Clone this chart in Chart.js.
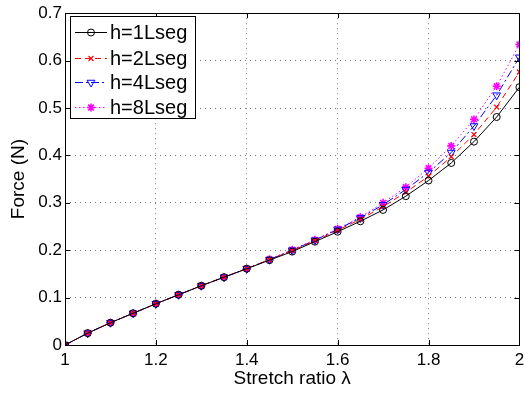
<!DOCTYPE html>
<html>
<head>
<meta charset="utf-8">
<script src="https://cdn.jsdelivr.net/npm/chart.js@4/dist/chart.umd.min.js"></script>
<style>
  html, body { margin: 0; padding: 0; background: #fff; }
  #wrap { width: 525px; height: 397px; }
</style>
</head>
<body>
<div id="wrap"><canvas id="c" width="525" height="397"></canvas></div>
<script>
// Stretch ratio samples
const stretch = [1.00, 1.05, 1.10, 1.15, 1.20, 1.25, 1.30, 1.35, 1.40, 1.45, 1.50,
                 1.55, 1.60, 1.65, 1.70, 1.75, 1.80, 1.85, 1.90, 1.95, 2.00];

// Force (N) for each segment count
const force1 = [0, 0.025, 0.047, 0.067, 0.087, 0.106, 0.125, 0.143, 0.161, 0.179, 0.197,
                0.218, 0.239, 0.261, 0.285, 0.314, 0.347, 0.384, 0.429, 0.481, 0.544];
const force2 = [0, 0.025, 0.047, 0.067, 0.087, 0.106, 0.125, 0.143, 0.161, 0.180, 0.199,
                0.220, 0.242, 0.265, 0.292, 0.322, 0.356, 0.397, 0.444, 0.502, 0.576];
const force4 = [0, 0.025, 0.047, 0.067, 0.087, 0.106, 0.125, 0.143, 0.161, 0.180, 0.200,
                0.221, 0.244, 0.268, 0.296, 0.328, 0.364, 0.406, 0.462, 0.527, 0.607];
const force8 = [0, 0.025, 0.047, 0.067, 0.087, 0.106, 0.125, 0.143, 0.161, 0.181, 0.201,
                0.222, 0.245, 0.270, 0.300, 0.333, 0.373, 0.420, 0.476, 0.546, 0.634];

const seriesLabels = ['h=1Lseg', 'h=2Lseg', 'h=4Lseg', 'h=8Lseg'];
const xTicks = [1, 1.2, 1.4, 1.6, 1.8, 2];
const yTicks = [0, 0.1, 0.2, 0.3, 0.4, 0.5, 0.6, 0.7];

const FONT = '"Liberation Sans", Arial, Helvetica, sans-serif';

const pts = ys => stretch.map((x, i) => ({ x: x, y: ys[i] }));

const styles = [
  { color: '#000000', dash: [], point: 'circle', radius: 3.5, rot: 0, fill: 'rgba(0,0,0,0)', bw: 1 },
  { color: '#ff0000', dash: [6, 4], point: 'crossRot', radius: 3.5, rot: 0, fill: '#ff0000', bw: 1.2 },
  { color: '#0000ff', dash: [8, 3, 2, 3], point: 'triangle', radius: 4.5, rot: 180, fill: 'rgba(0,0,0,0)', bw: 1 },
  { color: '#ff00ff', dash: [1.5, 2.5], point: 'star', radius: 4, rot: 0, fill: '#ff00ff', bw: 1.6 }
];

const allForces = [force1, force2, force4, force8];

const datasets = allForces.map((f, i) => ({
  label: seriesLabels[i],
  data: pts(f),
  borderColor: styles[i].color,
  backgroundColor: styles[i].fill,
  borderWidth: 1,
  borderDash: styles[i].dash,
  pointStyle: styles[i].point,
  pointRadius: styles[i].radius,
  pointRotation: styles[i].rot,
  pointBorderColor: styles[i].color,
  pointBackgroundColor: styles[i].fill,
  pointBorderWidth: styles[i].bw,
  tension: 0,
  fill: false
}));

// Box frame, inward tick marks and the in-plot legend
const framePlugin = {
  id: 'frame',
  afterDatasetsDraw(chart) {
    const { ctx, chartArea: a, scales } = chart;
    ctx.save();
    ctx.strokeStyle = '#000';
    ctx.lineWidth = 1;
    ctx.setLineDash([]);
    // inward ticks on all four sides
    ctx.beginPath();
    xTicks.forEach(v => {
      const px = Math.round(scales.x.getPixelForValue(v)) + 0.5;
      ctx.moveTo(px, a.bottom); ctx.lineTo(px, a.bottom - 5);
      ctx.moveTo(px, a.top); ctx.lineTo(px, a.top + 5);
    });
    yTicks.forEach(v => {
      const py = Math.round(scales.y.getPixelForValue(v)) + 0.5;
      ctx.moveTo(a.left, py); ctx.lineTo(a.left + 5, py);
      ctx.moveTo(a.right, py); ctx.lineTo(a.right - 5, py);
    });
    ctx.stroke();
    ctx.strokeRect(Math.round(a.left) + 0.5, Math.round(a.top) + 0.5,
                   Math.round(a.right - a.left), Math.round(a.bottom - a.top));

    // legend box
    const lx = 70, ly = 16, lw = 125, lh = 102;
    ctx.fillStyle = '#fff';
    ctx.fillRect(lx, ly, lw, lh);
    ctx.strokeStyle = '#000';
    ctx.strokeRect(lx + 0.5, ly + 0.5, lw, lh);
    const rows = [32, 58, 82, 107];
    ctx.font = '20px ' + FONT;
    ctx.textBaseline = 'middle';
    ctx.textAlign = 'left';
    datasets.forEach((d, i) => {
      const y = rows[i] + 0.5;
      ctx.strokeStyle = d.borderColor;
      ctx.lineWidth = 1;
      ctx.setLineDash(d.borderDash);
      ctx.beginPath();
      ctx.moveTo(lx + 5, y); ctx.lineTo(lx + 37, y);
      ctx.stroke();
      ctx.setLineDash([]);
      ctx.strokeStyle = d.pointBorderColor;
      ctx.fillStyle = d.pointBackgroundColor;
      ctx.lineWidth = d.pointBorderWidth;
      Chart.helpers.drawPoint(ctx, {
        pointStyle: d.pointStyle, radius: d.pointRadius, rotation: d.pointRotation,
        borderWidth: d.pointBorderWidth
      }, lx + 21, y);
      ctx.fillStyle = '#000';
      ctx.fillText(d.label, lx + 40, rows[i] + 1);
    });
    ctx.restore();
  }
};

new Chart(document.getElementById('c'), {
  type: 'line',
  data: { datasets },
  options: {
    responsive: false,
    animation: false,
    devicePixelRatio: 1,
    layout: { padding: { top: 12, right: 3, left: 0, bottom: 0 } },
    plugins: { legend: { display: false }, tooltip: { enabled: false } },
    scales: {
      x: {
        type: 'linear', min: 1, max: 2,
        afterBuildTicks: s => { s.ticks = xTicks.map(v => ({ value: v })); },
        // keep the last tick label from pushing the plot edge inward
        afterFit: s => { s.height = 52; s.paddingRight = 0; s.paddingLeft = 0; },
        ticks: {
          color: '#000', font: { family: FONT, size: 17 }, padding: 5,
          maxRotation: 0, autoSkip: false,
          callback: v => String(v)
        },
        grid: { color: '#7a7a7a', drawTicks: false, lineWidth: 1 },
        border: { display: false, dash: [1, 4] },
        title: { display: true, text: 'Stretch ratio λ', color: '#000',
                 font: { family: FONT, size: 19 }, padding: { top: 0, bottom: 7 } }
      },
      y: {
        type: 'linear', min: 0, max: 0.7,
        afterBuildTicks: s => { s.ticks = yTicks.map(v => ({ value: v })); },
        afterFit: s => { s.width = 65; },
        ticks: {
          color: '#000', font: { family: FONT, size: 17 }, padding: 3,
          callback: v => String(+v.toFixed(1))
        },
        grid: { color: '#7a7a7a', drawTicks: false, lineWidth: 1 },
        border: { display: false, dash: [1, 4] },
        title: { display: true, text: 'Force (N)', color: '#000',
                 font: { family: FONT, size: 19 }, padding: { top: 7, bottom: 0 } }
      }
    }
  },
  plugins: [framePlugin]
});
</script>
</body>
</html>
